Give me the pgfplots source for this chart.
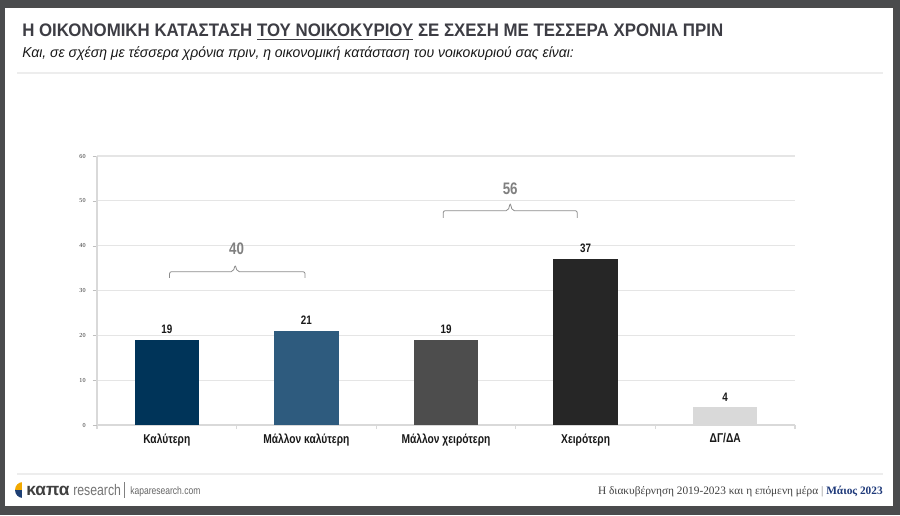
\documentclass[border=0pt]{standalone}
\usepackage{pgfplots}
\pgfplotsset{compat=1.18}
\usepackage{fontspec}
\setmainfont{Liberation Sans}
\newfontfamily\narrow{Liberation Sans}[FakeStretch=0.80]
\newfontfamily\titlefont{Liberation Sans}[FakeStretch=0.93]
\newfontfamily\subfont{Liberation Sans}[FakeStretch=0.97]
\newfontfamily\serifft{Liberation Serif}

\definecolor{frame}{HTML}{4A4B4D}
\definecolor{titlegray}{HTML}{3D3D44}
\definecolor{barA}{HTML}{003459}
\definecolor{barB}{HTML}{2E5B7E}
\definecolor{barC}{HTML}{4D4D4D}
\definecolor{barD}{HTML}{262626}
\definecolor{barE}{HTML}{D9D9D9}
\definecolor{sumgray}{HTML}{808080}
\definecolor{logoorange}{HTML}{F2A900}
\definecolor{logoblue}{HTML}{1E3F73}
\definecolor{dateblue}{HTML}{1F3A7A}

\begin{document}
\begin{tikzpicture}[x=0.75pt,y=0.75pt]
% slide background and frame
\fill[frame] (0,0) rectangle (900,515);
\fill[black!70,opacity=0.5] (7,7) rectangle (896,509);
\fill[white] (5,9) rectangle (893,507);

% heading
\node[anchor=base west,inner sep=0,text=titlegray] at (22,515-37)
  {\fontsize{13.6}{15}\titlefont\bfseries Η ΟΙΚΟΝΟΜΙΚΗ ΚΑΤΑΣΤΑΣΗ \underline{ΤΟΥ ΝΟΙΚΟΚΥΡΙΟΥ} ΣΕ ΣΧΕΣΗ ΜΕ ΤΕΣΣΕΡΑ ΧΡΟΝΙΑ ΠΡΙΝ};
\node[anchor=base west,inner sep=0,text=black!90] at (22,515-58)
  {\fontsize{10.8}{12}\subfont\itshape Και, σε σχέση με τέσσερα χρόνια πριν, η οικονομική κατάσταση του νοικοκυριού σας είναι:};
\draw[black!7,line width=1pt] (17,515-73) -- (883,515-73);

% footer
\draw[black!7,line width=1pt] (17,515-474) -- (883,515-474);
\fill[logoorange] (23,515-490) -- (23,515-482) arc (90:180:8) -- cycle;
\fill[logoblue] (23,515-490) -- (15,515-490) arc (180:270:8) -- cycle;
\fill[white] (22.2,515-499) rectangle (23.8,515-481);
\node[anchor=base west,inner sep=0,text=black!75] at (26,515-495)
  {\fontsize{13}{13}\bfseries καπα};
\node[anchor=base west,inner sep=0,text=black!55] at (73,515-495)
  {\fontsize{11.5}{12}\narrow research};
\draw[black!50,line width=0.6pt] (124,515-482) -- (124,515-498);
\node[anchor=base west,inner sep=0,text=black!60] at (130,515-494)
  {\fontsize{8}{9}\narrow kaparesearch.com};
\node[anchor=base east,inner sep=0,text=black!75] at (883,515-494)
  {\fontsize{8.5}{9}\serifft Η διακυβέρνηση 2019-2023 και η επόμενη μέρα \textcolor{black!50}{|} \textcolor{dateblue}{\bfseries Μάιος 2023}};

\begin{axis}[
  at={(72.75pt,67.5pt)}, anchor=south west,
  scale only axis, width=523.5pt, height=201.75pt,
  xmin=-0.5, xmax=4.5, ymin=0, ymax=60,
  axis x line*=bottom, axis y line*=left,
  axis line style={black!15, line width=0.8pt},
  ytick={0,10,...,60},
  ymajorgrids, grid style={black!10, line width=0.8pt},
  y tick style={black!25},
  major tick length=3pt,
  tick align=outside,
  yticklabel style={font=\fontsize{4.6}{5}\serifft, text=black!80, xshift=-2pt},
  /pgf/number format/assume math mode=true,
  xtick={-0.5,0.5,...,4.5}, xticklabels={},
  x tick style={black!15, line width=0.8pt},
  extra x ticks={0,1,2,3,4},
  extra x tick labels={Καλύτερη, Μάλλον καλύτερη, Μάλλον χειρότερη, Χειρότερη, ΔΓ/ΔΑ},
  extra x tick style={major tick length=0pt,
    ticklabel style={font=\fontsize{9.6}{10}\narrow\bfseries, text=black!90, yshift=-3pt}},
  ybar, bar shift=0pt, bar width=0.46,
  nodes near coords,
  every node near coord/.append style={font=\fontsize{9.2}{10}\narrow\bfseries, text=black!90, yshift=1pt},
  clip=false,
]
\addplot[fill=barA, draw=none] coordinates {(0,19)};
\addplot[fill=barB, draw=none] coordinates {(1,21)};
\addplot[fill=barC, draw=none] coordinates {(2,19)};
\addplot[fill=barD, draw=none] coordinates {(3,37)};
\addplot[fill=barE, draw=none] coordinates {(4,4)};

% group brackets
\addplot[sharp plot, no marks, nodes near coords={}, draw=black!45, line width=0.6pt, rounded corners=1.5pt]
  coordinates {(0.02,32.8) (0.02,34.2) (0.475,34.2) (0.49,35.7) (0.505,34.2) (0.99,34.2) (0.99,32.8)};
\addplot[sharp plot, no marks, nodes near coords={}, draw=black!45, line width=0.6pt, rounded corners=1.5pt]
  coordinates {(1.98,46.2) (1.98,47.8) (2.445,47.8) (2.46,49.5) (2.475,47.8) (2.94,47.8) (2.94,46.2)};
\node[text=sumgray, font=\fontsize{12.5}{13}\narrow\bfseries] at (axis cs:0.5,39.2) {40};
\node[text=sumgray, font=\fontsize{12.5}{13}\narrow\bfseries] at (axis cs:2.46,52.6) {56};
\end{axis}
\end{tikzpicture}
\end{document}
